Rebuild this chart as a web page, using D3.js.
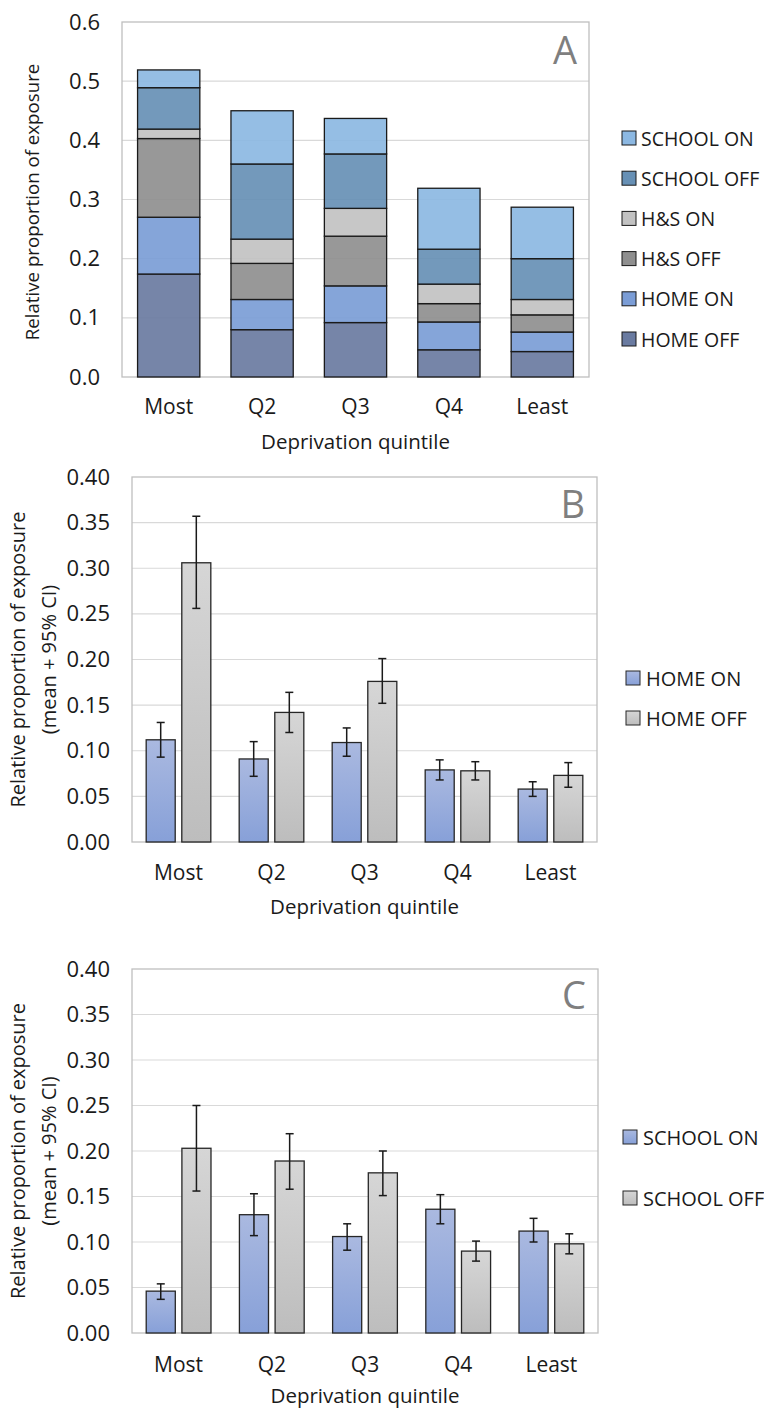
<!DOCTYPE html>
<html>
<head>
<meta charset="utf-8">
<script src="https://cdn.jsdelivr.net/npm/d3@7"></script>
<style>
  body { margin: 0; background: #fff; }
  svg text { font-family: "Open Sans", "Noto Sans", sans-serif; fill: #1a1a1a; }
</style>
</head>
<body>
<div id="chart"></div>
<script>
// donnees
const quintiles = ["Most", "Q2", "Q3", "Q4", "Least"];

// panneau A : parts empilees
const layersA = ["HOME OFF", "HOME ON", "H&S OFF", "H&S ON", "SCHOOL OFF", "SCHOOL ON"];
const homeOff   = [0.174, 0.080, 0.092, 0.046, 0.043];
const homeOn    = [0.096, 0.051, 0.062, 0.047, 0.033];
const hsOff     = [0.133, 0.061, 0.084, 0.031, 0.029];
const hsOn      = [0.016, 0.041, 0.047, 0.033, 0.026];
const schoolOff = [0.070, 0.127, 0.092, 0.059, 0.069];
const schoolOn  = [0.030, 0.090, 0.060, 0.103, 0.087];
const ticksA = [0, 0.1, 0.2, 0.3, 0.4, 0.5, 0.6];

// panneau B : HOME (moyenne + IC 95%)
const homeOnMean  = [0.112, 0.091, 0.109, 0.079, 0.058];
const homeOnLo    = [0.093, 0.072, 0.094, 0.068, 0.050];
const homeOnHi    = [0.131, 0.110, 0.125, 0.090, 0.066];
const homeOffMean = [0.306, 0.142, 0.176, 0.078, 0.073];
const homeOffLo   = [0.256, 0.120, 0.152, 0.068, 0.060];
const homeOffHi   = [0.357, 0.164, 0.201, 0.088, 0.087];

// panneau C : SCHOOL (moyenne + IC 95%)
const schoolOnMean  = [0.046, 0.130, 0.106, 0.136, 0.112];
const schoolOnLo    = [0.037, 0.107, 0.091, 0.120, 0.100];
const schoolOnHi    = [0.054, 0.153, 0.120, 0.152, 0.126];
const schoolOffMean = [0.203, 0.189, 0.176, 0.090, 0.098];
const schoolOffLo   = [0.156, 0.158, 0.151, 0.079, 0.087];
const schoolOffHi   = [0.250, 0.219, 0.200, 0.101, 0.109];
const ticksBC = [0, 0.05, 0.10, 0.15, 0.20, 0.25, 0.30, 0.35, 0.40];

const couleursA = {
  "SCHOOL ON": "#8cb8e2",
  "SCHOOL OFF": "#6790b5",
  "H&S ON": "#c2c2c2",
  "H&S OFF": "#8f8f8f",
  "HOME ON": "#7b9dd6",
  "HOME OFF": "#6a7ba1"
};

const svg = d3.select("#chart").append("svg")
    .attr("width", 764)
    .attr("height", 1410);

const defs = svg.append("defs");
function gradient(id, haut, bas) {
  const g = defs.append("linearGradient").attr("id", id)
      .attr("x1", 0).attr("y1", 0).attr("x2", 0).attr("y2", 1);
  g.append("stop").attr("offset", "0%").attr("stop-color", haut);
  g.append("stop").attr("offset", "100%").attr("stop-color", bas);
}
gradient("gradBleu", "#aab9e0", "#87a0d8");
gradient("gradGris", "#d6d6d6", "#bdbdbd");

// Cadre, grille et axe y communs
function cadre(p, y, ticks, fmt) {
  const g = svg.append("g");
  g.selectAll("line.grid")
    .data(ticks.filter(t => t > 0 && t < y.domain()[1]))
    .enter().append("line")
      .attr("x1", p.left).attr("x2", p.right)
      .attr("y1", d => y(d)).attr("y2", d => y(d))
      .attr("stroke", "#d9d9d9").attr("stroke-width", 1.2);
  g.append("rect")
    .attr("x", p.left).attr("y", p.top)
    .attr("width", p.right - p.left).attr("height", p.bottom - p.top)
    .attr("fill", "none").attr("stroke", "#bfbfbf").attr("stroke-width", 1.3);

  const axe = svg.append("g")
      .attr("transform", "translate(" + p.left + ",0)")
      .call(d3.axisLeft(y).tickValues(ticks).tickFormat(d3.format(fmt)).tickSize(0).tickPadding(22));
  axe.select(".domain").remove();
  axe.selectAll("text")
      .style("font-size", "22px")
      .style("font-family", "'Open Sans', sans-serif")
      .attr("fill", "#1a1a1a");
  return g;
}

function axeX(p, x, yLabel, yTitre) {
  svg.append("g").selectAll("text")
    .data(quintiles)
    .enter().append("text")
      .attr("x", d => x(d) + x.bandwidth() / 2)
      .attr("y", yLabel)
      .attr("text-anchor", "middle")
      .style("font-size", "21px")
      .text(d => d);
  svg.append("text")
    .attr("x", (p.left + p.right) / 2)
    .attr("y", yTitre)
    .attr("text-anchor", "middle")
    .style("font-size", "20.5px")
    .text("Deprivation quintile");
}

function lettre(p, l, yc) {
  svg.append("text")
    .attr("x", p.right - 12)
    .attr("y", yc)
    .attr("text-anchor", "end")
    .attr("dominant-baseline", "central")
    .style("font-size", "38px")
    .style("fill", "#7f7f7f")
    .text(l);
}

// ---------- Panneau A ----------
const pA = {left: 122, right: 589, top: 22, bottom: 377};
const yA = d3.scaleLinear().domain([0, 0.6]).range([pA.bottom, pA.top]);
const xA = d3.scaleBand().domain(quintiles).range([pA.left, pA.right])
    .paddingInner(1 / 3).paddingOuter(1 / 6);
cadre(pA, yA, ticksA, ".1f");

const tableA = quintiles.map((q, i) => ({
  q: q,
  "HOME OFF": homeOff[i],
  "HOME ON": homeOn[i],
  "H&S OFF": hsOff[i],
  "H&S ON": hsOn[i],
  "SCHOOL OFF": schoolOff[i],
  "SCHOOL ON": schoolOn[i]
}));
const pile = d3.stack().keys(layersA)(tableA);

svg.append("g").selectAll("g")
  .data(pile)
  .enter().append("g")
    .attr("fill", d => couleursA[d.key])
  .selectAll("rect")
  .data(d => d)
  .enter().append("rect")
    .attr("x", d => xA(d.data.q))
    .attr("width", xA.bandwidth())
    .attr("y", d => yA(d[1]))
    .attr("height", d => yA(d[0]) - yA(d[1]))
    .attr("fill-opacity", 0.92)
    .attr("stroke", "#1a1a1a")
    .attr("stroke-width", 1.3);

axeX(pA, xA, 414, 449);
lettre(pA, "A", 49);

svg.append("text")
  .attr("transform", "translate(39," + 202 + ") rotate(-90)")
  .attr("text-anchor", "middle")
  .style("font-size", "18.7px")
  .text("Relative proportion of exposure");

// legende A
const legA = layersA.slice().reverse();
const gLegA = svg.append("g");
legA.forEach((k, i) => {
  const yy = 138 + i * 40.2;
  gLegA.append("rect")
    .attr("x", 622).attr("y", yy - 7).attr("width", 14).attr("height", 14)
    .attr("fill", couleursA[k]).attr("stroke", "#1a1a1a").attr("stroke-width", 1);
  gLegA.append("text")
    .attr("x", 641).attr("y", yy)
    .attr("dominant-baseline", "central")
    .style("font-size", "19.5px")
    .text(k);
});

// ---------- Panneaux B et C ----------
function panneauGroupe(p, serieOn, serieOff, noms, lettreTxt, lettreY, yLabel, yTitre, legX, legY, legPas) {
  const y = d3.scaleLinear().domain([0, 0.4]).range([p.bottom, p.top]);
  const x0 = d3.scaleBand().domain(quintiles).range([p.left, p.right])
      .paddingInner(0.305).paddingOuter(0.1525);
  const x1 = d3.scaleBand().domain([0, 1]).range([0, x0.bandwidth()]).paddingInner(0.185);
  cadre(p, y, ticksBC, ".2f");

  const series = [serieOn, serieOff];
  const fills = ["url(#gradBleu)", "url(#gradGris)"];
  const donnees = [];
  series.forEach((s, j) => {
    quintiles.forEach((q, i) => {
      donnees.push({q: q, j: j, m: s.mean[i], lo: s.lo[i], hi: s.hi[i]});
    });
  });

  const g = svg.append("g");
  g.selectAll("rect")
    .data(donnees)
    .enter().append("rect")
      .attr("x", d => x0(d.q) + x1(d.j))
      .attr("width", x1.bandwidth())
      .attr("y", d => y(d.m))
      .attr("height", d => y(0) - y(d.m))
      .attr("fill", d => fills[d.j])
      .attr("stroke", "#262626")
      .attr("stroke-width", 1.3);

  // barres d'erreur
  const err = g.selectAll("g.err")
    .data(donnees)
    .enter().append("g")
      .attr("stroke", "#1a1a1a")
      .attr("stroke-width", 1.5);
  const cx = d => x0(d.q) + x1(d.j) + x1.bandwidth() / 2;
  err.append("line")
    .attr("x1", cx).attr("x2", cx)
    .attr("y1", d => y(d.hi)).attr("y2", d => y(d.lo));
  err.append("line")
    .attr("x1", d => cx(d) - 4).attr("x2", d => cx(d) + 4)
    .attr("y1", d => y(d.hi)).attr("y2", d => y(d.hi));
  err.append("line")
    .attr("x1", d => cx(d) - 4).attr("x2", d => cx(d) + 4)
    .attr("y1", d => y(d.lo)).attr("y2", d => y(d.lo));

  axeX(p, x0, yLabel, yTitre);
  lettre(p, lettreTxt, lettreY);

  const yc = (p.top + p.bottom) / 2;
  const titreY = svg.append("text")
    .attr("transform", "translate(34," + yc + ") rotate(-90)")
    .attr("text-anchor", "middle")
    .style("font-size", "20px");
  titreY.append("tspan").attr("x", 0).attr("dy", "-0.45em").text("Relative proportion of exposure");
  titreY.append("tspan").attr("x", 0).attr("dy", "1.55em").text("(mean + 95% CI)");

  noms.forEach((n, j) => {
    const yy = legY + j * legPas;
    svg.append("rect")
      .attr("x", legX).attr("y", yy - 7).attr("width", 14).attr("height", 14)
      .attr("fill", fills[j]).attr("stroke", "#262626").attr("stroke-width", 1);
    svg.append("text")
      .attr("x", legX + 20).attr("y", yy)
      .attr("dominant-baseline", "central")
      .style("font-size", "20px")
      .text(n);
  });
}

panneauGroupe({left: 132, right: 597, top: 477, bottom: 842},
  {mean: homeOnMean, lo: homeOnLo, hi: homeOnHi},
  {mean: homeOffMean, lo: homeOffLo, hi: homeOffHi},
  ["HOME ON", "HOME OFF"], "B", 503, 880, 914, 626, 678, 40);

panneauGroupe({left: 132, right: 598, top: 969, bottom: 1333},
  {mean: schoolOnMean, lo: schoolOnLo, hi: schoolOnHi},
  {mean: schoolOffMean, lo: schoolOffLo, hi: schoolOffHi},
  ["SCHOOL ON", "SCHOOL OFF"], "C", 994, 1372, 1403, 623, 1137, 61);
</script>
</body>
</html>
